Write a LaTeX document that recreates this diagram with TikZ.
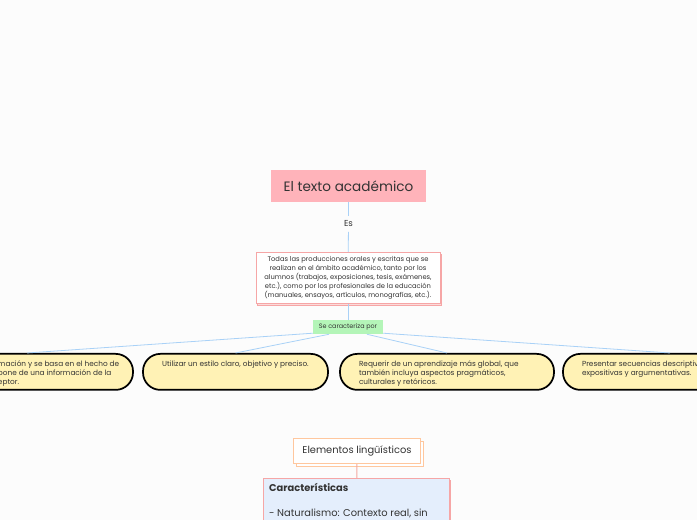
\documentclass[tikz,border=0pt]{standalone}
\usepackage{fontspec}
\setmainfont{Poppins}
\usepackage{tikz}
\usetikzlibrary{positioning,shadows}
\definecolor{cpink}{HTML}{FFB3BA}
\definecolor{cblue}{HTML}{A9D1F7}
\definecolor{crose}{HTML}{F6A6A6}
\definecolor{cgreen}{HTML}{B4F5B8}
\definecolor{cyellow}{HTML}{FFF2B5}
\definecolor{corange}{HTML}{FFC79E}
\definecolor{csalmon}{HTML}{F4A9A0}
\definecolor{cpale}{HTML}{E4EEFC}
\definecolor{cink}{HTML}{333333}
\tikzset{
  link/.style={draw=cblue, line width=0.6pt},
  trait/.style={draw=black, line width=1.3pt, fill=cyellow, rounded corners=13pt,
    minimum height=27pt, inner xsep=0pt, inner ysep=5pt, anchor=north,
    font=\fontsize{5.5}{6.75}\selectfont, text=cink},
}
\newcommand{\toptext}[2]{\parbox[c][17pt][t]{#1}{\raggedright #2}}

\begin{document}
\begin{tikzpicture}[x=0.75pt,y=-0.75pt]
\useasboundingbox (0,0) rectangle (697,520);
\clip (0,0) rectangle (697,520);
\fill[white!99!black] (0,0) rectangle (697,520);

% ============ central topic ============
\node[fill=cpink, minimum width=116pt, minimum height=24pt, text=cink,
  font=\fontsize{10.2}{12}\selectfont] (title) at (348.5,186) {El texto académico};
\node[font=\fontsize{6.5}{7}\selectfont, text=cink] (es) at (348.5,224) {Es};
\node[draw=crose, line width=0.7pt, fill=white, minimum width=138pt, minimum height=38pt,
  copy shadow={shadow xshift=1.3pt, shadow yshift=-1.3pt, draw=crose, fill=crose!40},
  align=center, font=\fontsize{5.05}{6.75}\selectfont, text=cink, inner sep=1pt]
  (def) at (348,278)
  {Todas las producciones orales y escritas que se\\
   realizan en el ámbito académico, tanto por los\\
   alumnos (trabajos, exposiciones, tesis, exámenes,\\
   etc.), como por los profesionales de la educación\\
   (manuales, ensayos, artículos, monografías, etc.).};
\node[fill=cgreen, minimum width=52.5pt, minimum height=10.5pt, inner sep=1pt,
  font=\fontsize{4.8}{6}\selectfont, text=cink] (sc) at (348,327) {Se caracteriza por};

\draw[link] (title) -- (es);
\draw[link] (es) -- (def);
\draw[link] (def) -- (sc);

% ============ traits ============
\node[trait, minimum width=159pt] (t1) at (27,353)
  {\toptext{130.5pt}{\hspace*{43.5pt}\parbox[t]{95pt}{mación y se basa en el hecho de\\
   pone de una información de la\\ eptor.}}};
\node[trait, minimum width=138.75pt] (t2) at (235.5,353)
  {\toptext{110pt}{Utilizar un estilo claro, objetivo y preciso.}};
\node[trait, minimum width=160.5pt] (t3) at (447,353)
  {\toptext{132pt}{Requerir de un aprendizaje más global, que\\
   también incluya aspectos pragmáticos,\\ culturales y retóricos.}};
\node[trait, minimum width=160.5pt] (t4) at (670,353)
  {\toptext{132pt}{Presentar secuencias descriptiv\\ expositivas y argumentativas.}};

\draw[link] (sc.190) -- (t1.north);
\draw[link] (sc.201) -- (t2.north);
\draw[link] (sc.339) -- (t3.north);
\draw[link] (sc.350) -- (t4.north);

% ============ linguistic elements ============
\node[draw=corange, line width=0.7pt, fill=white, minimum width=95pt, minimum height=19pt,
  copy shadow={shadow xshift=2.2pt, shadow yshift=-2.2pt, draw=corange, fill=white},
  font=\fontsize{7.4}{9}\selectfont, text=cink] (elem) at (357,451) {Elementos lingüísticos};
\node[draw=crose, line width=0.7pt, fill=cpale, minimum width=138.75pt, minimum height=60pt,
  anchor=north, inner sep=4pt,
  copy shadow={shadow xshift=1.3pt, shadow yshift=-1.3pt, draw=crose, fill=crose!40},
  font=\fontsize{7.4}{9.4}\selectfont, text=cink] (car) at (356.5,478)
  {\parbox[c][52pt][t]{131pt}{\raggedright\textbf{Características}\\[9pt]
   - Naturalismo: Contexto real, sin}};
\draw[csalmon, line width=0.7pt] (elem) -- (car);

\end{tikzpicture}
\end{document}
